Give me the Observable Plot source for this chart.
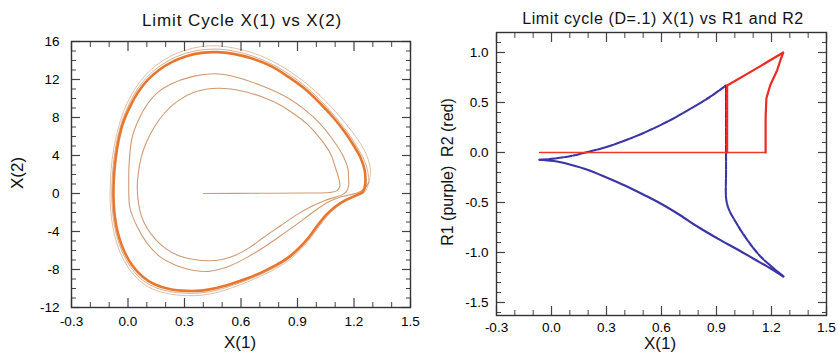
<!DOCTYPE html>
<html><head><meta charset="utf-8">
<script src="https://cdn.jsdelivr.net/npm/d3@7"></script>
<script src="https://cdn.jsdelivr.net/npm/@observablehq/plot@0.6"></script>
<style>
body{margin:0;background:#fff;font-family:"Liberation Sans",Arial,Helvetica,sans-serif}
#wrap{position:relative;width:838px;height:360px;overflow:hidden;background:#fff}
.p{position:absolute;top:0}
.t{position:absolute;white-space:nowrap;color:#111;line-height:1}
</style></head><body><div id="wrap"></div>
<script>
// ---------- Left panel data: trajectory X(1) vs X(2) ----------
const loop1 = [[0.40,0],[0.7,0.02],[0.95,0.05],[1.07,0.1],[1.11,0.3],[1.125,0.8],[1.12,1.5],[1.10,2.8],[1.075,4.2],[1.02,5.8],[0.952,7.3],[0.88,8.4],[0.81,9.3],[0.72,10.1],[0.633,10.66],[0.544,11.0],[0.45,11.05],[0.35,10.65],[0.265,9.75],[0.195,8.5],[0.14,7.0],[0.098,5.4],[0.07,3.8],[0.055,2.2],[0.049,0.7],[0.055,-0.9],[0.07,-2.3],[0.1,-3.6],[0.145,-4.8],[0.2,-5.8],[0.27,-6.55],[0.35,-6.95],[0.43,-7.08],[0.5,-6.95],[0.57,-6.5],[0.645,-5.7],[0.721,-4.6],[0.81,-3.4],[0.899,-2.2],[0.97,-1.4],[1.04,-0.78],[1.1,-0.38],[1.14,-0.12],[1.163,0.3],[1.172,0.9],[1.171,1.6]];
const loop2 = [[1.171,1.6],[1.168,2.6],[1.146,3.8],[1.09,5.6],[1.022,7.3],[0.94,8.8],[0.845,10.1],[0.74,11.1],[0.633,11.9],[0.544,12.4],[0.456,12.6],[0.34,12.3],[0.226,11.5],[0.155,10.6],[0.102,9.4],[0.055,7.7],[0.022,5.9],[0.007,3.5],[0.004,1.0],[0.01,-1.5],[0.049,-3.5],[0.1,-5.2],[0.173,-6.7],[0.26,-7.6],[0.35,-8.1],[0.43,-8.2],[0.491,-7.95],[0.544,-7.6],[0.63,-6.75],[0.721,-5.65],[0.81,-4.45],[0.899,-3.2],[0.98,-2.0],[1.058,-0.95],[1.12,-0.42],[1.164,-0.2],[1.208,0],[1.25,0.4],[1.28,1.2]];
const outerA = [[1.28,1.2],[1.288,2.4],[1.275,3.6],[1.245,4.9],[1.19,6.5],[1.125,8.1],[1.05,9.7],[0.965,11.3],[0.87,12.7],[0.775,13.85],[0.67,14.75],[0.565,15.3],[0.47,15.55],[0.385,15.45],[0.3,15.05],[0.22,14.4],[0.15,13.5],[0.09,12.4],[0.04,11.1],[-0.005,9.5],[-0.04,7.7],[-0.066,5.7],[-0.084,3.6],[-0.093,1.5],[-0.095,-0.5],[-0.088,-2.5],[-0.07,-4.5],[-0.04,-6.3],[0.005,-7.9],[0.06,-9.15],[0.13,-10.05],[0.215,-10.55],[0.31,-10.75],[0.395,-10.7],[0.475,-10.4],[0.555,-9.9],[0.635,-9.3],[0.715,-8.6],[0.79,-7.85],[0.86,-6.95],[0.92,-5.85],[0.97,-4.7],[1.015,-3.5],[1.06,-2.35],[1.11,-1.4],[1.16,-0.75],[1.21,-0.3],[1.255,0.1],[1.272,0.7],[1.278,1.6]];
const outerB = [[1.278,1.6],[1.27,2.6],[1.245,3.9],[1.21,5.1],[1.16,6.6],[1.1,8.1],[1.03,9.65],[0.95,11.15],[0.86,12.5],[0.765,13.6],[0.665,14.45],[0.565,14.98],[0.47,15.2],[0.385,15.1],[0.305,14.75],[0.228,14.12],[0.158,13.25],[0.098,12.2],[0.047,10.9],[0.004,9.35],[-0.032,7.6],[-0.058,5.65],[-0.075,3.6],[-0.084,1.55],[-0.086,-0.45],[-0.079,-2.45],[-0.061,-4.4],[-0.031,-6.15],[0.012,-7.7],[0.067,-8.95],[0.135,-9.8],[0.217,-10.3],[0.31,-10.5],[0.392,-10.46],[0.472,-10.18],[0.552,-9.7],[0.632,-9.12],[0.712,-8.45],[0.785,-7.72],[0.855,-6.85],[0.915,-5.78],[0.965,-4.65],[1.01,-3.45],[1.055,-2.32],[1.105,-1.4],[1.155,-0.75],[1.205,-0.3],[1.25,0.1],[1.262,0.7],[1.264,1.5]];
const limitCycle = [[1.244,0.1],[1.256,0.6],[1.261,1.5],[1.255,2.6],[1.232,3.9],[1.2,5.0],[1.15,6.5],[1.09,8.0],[1.02,9.5],[0.94,11.0],[0.85,12.3],[0.76,13.4],[0.66,14.2],[0.56,14.7],[0.47,14.88],[0.39,14.8],[0.31,14.45],[0.235,13.85],[0.165,13.0],[0.105,11.95],[0.055,10.7],[0.012,9.2],[-0.025,7.5],[-0.05,5.6],[-0.066,3.6],[-0.075,1.6],[-0.077,-0.4],[-0.07,-2.4],[-0.052,-4.3],[-0.022,-6.0],[0.02,-7.5],[0.075,-8.7],[0.14,-9.55],[0.22,-10.05],[0.31,-10.25],[0.39,-10.22],[0.47,-9.95],[0.55,-9.5],[0.63,-8.95],[0.71,-8.3],[0.78,-7.6],[0.85,-6.75],[0.91,-5.7],[0.96,-4.6],[1.005,-3.4],[1.05,-2.3],[1.1,-1.4],[1.15,-0.75],[1.2,-0.3],[1.244,0.1]];

// ---------- Right panel data: X(1) vs R1 (purple) and R2 (red) ----------
const r1Upper = [[-0.065,-0.072],[0.0,-0.064],[0.1,-0.037],[0.186,0],[0.3,0.055],[0.43,0.14],[0.55,0.235],[0.66,0.335],[0.76,0.44],[0.86,0.55],[0.952,0.67]];
const r1Drop = [[0.952,0.67],[0.952,0.2],[0.952,-0.2],[0.952,-0.45],[0.96,-0.53],[0.975,-0.6],[1.0,-0.68],[1.04,-0.8],[1.09,-0.93],[1.14,-1.04],[1.2,-1.14],[1.265,-1.24]];
const r1Lower = [[1.265,-1.24],[1.2,-1.165],[1.1,-1.06],[1.0,-0.955],[0.922,-0.877],[0.8,-0.745],[0.7,-0.625],[0.595,-0.51],[0.5,-0.42],[0.4,-0.33],[0.3,-0.25],[0.2,-0.175],[0.1,-0.12],[0.03,-0.09],[-0.065,-0.072]];
const r2Base = [[-0.065,0],[1.168,0]];
const r2Pulse = [[0.958,0],[0.958,0.67],[1.086,0.806],[1.264,1.0],[1.25,0.93],[1.231,0.823],[1.193,0.673],[1.172,0.54],[1.168,0.356],[1.168,0]];

// ---------- Tick values and labels ----------
const xMajor = [-0.3,0.0,0.3,0.6,0.9,1.2,1.5];
const xMinor = [-0.2,-0.1,0.1,0.2,0.4,0.5,0.7,0.8,1.0,1.1,1.3,1.4];
const xLabels = ["-0.3","0.0","0.3","0.6","0.9","1.2","1.5"];
const yLMajor = [-12,-8,-4,0,4,8,12,16];
const yLMinor = [-11,-10,-9,-7,-6,-5,-3,-2,-1,1,2,3,5,6,7,9,10,11,13,14,15];
const yLLabels = ["-12","-8","-4","0","4","8","12","16"];
const yRMajor = [-1.5,-1.0,-0.5,0.0,0.5,1.0];
const yRMinor = [-1.6,-1.4,-1.3,-1.2,-1.1,-0.9,-0.8,-0.7,-0.6,-0.4,-0.3,-0.2,-0.1,0.1,0.2,0.3,0.4,0.6,0.7,0.8,0.9,1.1,1.2];
const yRLabels = ["-1.5","-1.0","-0.5","0.0","0.5","1.0"];

const FONT = "Liberation Sans, Arial, Helvetica, sans-serif";
const tickStroke = "#444";

function frameAxes(xMaj, xMin, xLab, yMaj, yMin, yLab, xPad, yPad) {
  const fx = d => xLab[xMaj.indexOf(d)];
  const fy = d => yLab[yMaj.indexOf(d)];
  return [
    Plot.axisX({anchor: "bottom", ticks: xMaj, tickSize: -9, fill: "none", label: null, stroke: tickStroke, strokeWidth: 1.2}),
    Plot.axisX({anchor: "bottom", ticks: xMin, tickSize: -5, fill: "none", label: null, stroke: tickStroke}),
    Plot.axisX({anchor: "top", ticks: xMaj, tickSize: -9, fill: "none", label: null, stroke: tickStroke, strokeWidth: 1.2}),
    Plot.axisX({anchor: "top", ticks: xMin, tickSize: -5, fill: "none", label: null, stroke: tickStroke}),
    Plot.axisY({anchor: "left", ticks: yMaj, tickSize: -9, fill: "none", label: null, stroke: tickStroke, strokeWidth: 1.2}),
    Plot.axisY({anchor: "left", ticks: yMin, tickSize: -5, fill: "none", label: null, stroke: tickStroke}),
    Plot.axisY({anchor: "right", ticks: yMaj, tickSize: -9, fill: "none", label: null, stroke: tickStroke, strokeWidth: 1.2}),
    Plot.axisY({anchor: "right", ticks: yMin, tickSize: -5, fill: "none", label: null, stroke: tickStroke}),
    Plot.axisX({anchor: "bottom", ticks: xMaj, tickSize: 0, tickPadding: xPad, tickFormat: fx, label: null, fill: "#000", fontSize: 13.5}),
    Plot.axisY({anchor: "left", ticks: yMaj, tickSize: 0, tickPadding: yPad, tickFormat: fy, label: null, fill: "#000", fontSize: 13.5}),
    Plot.frame({stroke: "#333", strokeWidth: 1.4})
  ];
}

const P = d => d[0], Q = d => d[1];

const left = Plot.plot({
  width: 420, height: 360,
  marginLeft: 71, marginRight: 10, marginTop: 41, marginBottom: 53,
  x: {domain: [-0.3, 1.5]},
  y: {domain: [-12, 16]},
  style: {fontFamily: FONT, fontSize: "13px", background: "transparent", color: "#111"},
  marks: [
    Plot.line(outerA, {x: P, y: Q, stroke: "#dfc0a8", strokeWidth: 1, curve: "catmull-rom"}),
    Plot.line(outerB, {x: P, y: Q, stroke: "#d8b090", strokeWidth: 1, curve: "catmull-rom"}),
    Plot.line(loop1, {x: P, y: Q, stroke: "#cf9a74", strokeWidth: 1.1, curve: "catmull-rom"}),
    Plot.line(loop2, {x: P, y: Q, stroke: "#cf9a74", strokeWidth: 1.1, curve: "catmull-rom"}),
    Plot.line(limitCycle, {x: P, y: Q, stroke: "#e8762e", strokeWidth: 2.6, curve: "catmull-rom"}),
    ...frameAxes(xMajor, xMinor, xLabels, yLMajor, yLMinor, yLLabels, 9, 12)
  ]
});

const right = Plot.plot({
  width: 418, height: 360,
  marginLeft: 76, marginRight: 12, marginTop: 32, marginBottom: 45,
  x: {domain: [-0.3, 1.5]},
  y: {domain: [-1.63, 1.2]},
  style: {fontFamily: FONT, fontSize: "13px", background: "transparent", color: "#111"},
  marks: [
    Plot.line(r1Upper, {x: P, y: Q, stroke: "#3b34a6", strokeWidth: 2.1, strokeDasharray: "7,1.5", curve: "catmull-rom"}),
    Plot.line(r1Drop, {x: P, y: Q, stroke: "#3b34a6", strokeWidth: 2.1, strokeDasharray: "7,1.5", curve: "catmull-rom"}),
    Plot.line(r1Lower, {x: P, y: Q, stroke: "#3b34a6", strokeWidth: 2.1, curve: "catmull-rom"}),
    Plot.line(r2Base, {x: P, y: Q, stroke: "#f0392a", strokeWidth: 1.3}),
    Plot.line(r2Pulse, {x: P, y: Q, stroke: "#ee2a22", strokeWidth: 2.2, curve: "linear"}),
    ...frameAxes(xMajor, xMinor, xLabels, yRMajor, yRMinor, yRLabels, 7, 8)
  ]
});

const wrap = document.getElementById("wrap");
left.classList.add("p"); left.style.left = "0px";
right.classList.add("p"); right.style.left = "420px";
wrap.appendChild(left); wrap.appendChild(right);

function addText(txt, x, y, size, rotate, extra) {
  const d = document.createElement("div");
  d.className = "t";
  d.textContent = txt;
  d.style.fontSize = size + "px";
  d.style.left = x + "px";
  d.style.top = y + "px";
  d.style.transform = "translate(-50%,-50%)" + (rotate ? " rotate(-90deg)" : "");
  if (extra) Object.assign(d.style, extra);
  wrap.appendChild(d);
}
addText("Limit Cycle X(1) vs X(2)", 242, 20, 17, false, {letterSpacing: "0.9px"});
addText("X(1)", 240, 342, 17, false);
addText("X(2)", 17, 173, 17, true);
addText("Limit cycle (D=.1) X(1) vs R1 and R2", 663, 19, 16, false, {letterSpacing: "0.6px"});
addText("X(1)", 660, 343, 17, false);
addText("R1 (purple)\u00a0\u00a0R2 (red)", 448, 172, 16, true);
</script></body></html>
